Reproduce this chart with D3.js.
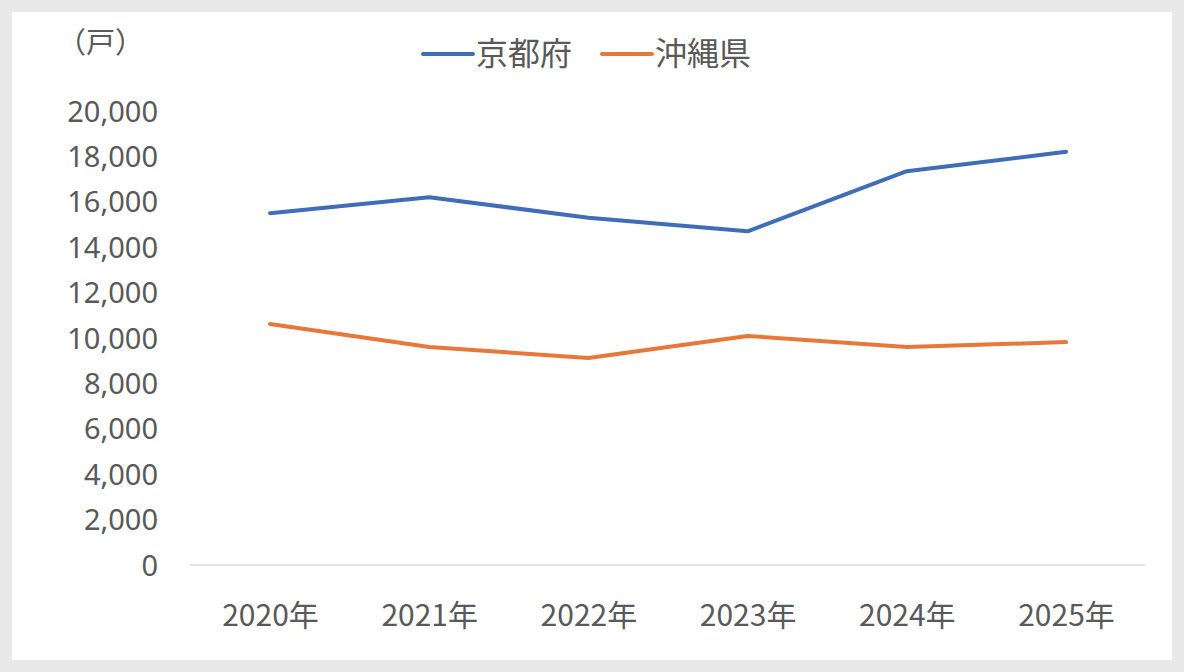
<!DOCTYPE html>
<html><head><meta charset="utf-8">
<script src="https://cdn.jsdelivr.net/npm/d3@7"></script>
<style>
html,body{margin:0;padding:0;background:#e8e8e8;}
svg{display:block;}
text{font-family:"Noto Sans CJK JP","Noto Sans",sans-serif;fill:#595959;}
</style></head>
<body>
<svg id="chart" width="1184" height="672"></svg>
<script>
const categories = ["2020年","2021年","2022年","2023年","2024年","2025年"];
const seriesNames = ["京都府","沖縄県"];
const kyoto = [15500, 16200, 15300, 14700, 17350, 18200];
const okinawa = [10620, 9600, 9120, 10090, 9600, 9820];
const yTicks = [0,2000,4000,6000,8000,10000,12000,14000,16000,18000,20000];
const colors = ["#3F6DB8","#E8773A"];
const unitLabel = "（戸）";

const svg = d3.select("#chart");
svg.append("rect").attr("x",12).attr("y",12).attr("width",1160).attr("height",648).attr("fill","#ffffff");

const x = d3.scalePoint().domain(categories).range([270,1066]).padding(0);
const y = d3.scaleLinear().domain([0,20000]).range([565,111]);

// axis baseline
svg.append("line").attr("x1",190).attr("x2",1145).attr("y1",y(0)).attr("y2",y(0))
  .attr("stroke","#d9d9d9").attr("stroke-width",1.5);

// y axis labels
const yAxis = d3.axisLeft(y).tickValues(yTicks).tickFormat(d3.format(",")).tickSize(0).tickPadding(0);
const gy = svg.append("g").attr("transform","translate(158,0)").call(yAxis);
gy.select(".domain").remove();
gy.selectAll("text").style("font-family","'Noto Sans',sans-serif").style("font-size","29px").attr("fill","#595959").attr("dy","0.35em");

// x axis labels
const xAxis = d3.axisBottom(x).tickSize(0).tickPadding(0);
const gx = svg.append("g").attr("transform","translate(0,602)").call(xAxis);
gx.select(".domain").remove();
gx.selectAll("text").style("font-size","30px").attr("fill","#595959").attr("dy","0.35em");
gx.selectAll("text").attr("y",13);

// lines
const line = d3.line().x((d,i)=>x(categories[i])).y(d=>y(d));
[kyoto, okinawa].forEach((s,k)=>{
  svg.append("path").datum(s).attr("d",line).attr("fill","none")
    .attr("stroke",colors[k]).attr("stroke-width",4).attr("stroke-linejoin","round").attr("stroke-linecap","round");
});

// unit label
svg.append("text").attr("x",57).attr("y",43).attr("dy","0.35em").style("font-size","29px").text(unitLabel);

// legend
const legendX = [423, 602];
seriesNames.forEach((n,k)=>{
  svg.append("line").attr("x1",legendX[k]).attr("x2",legendX[k]+50).attr("y1",54).attr("y2",54)
    .attr("stroke",colors[k]).attr("stroke-width",4).attr("stroke-linecap","round");
  svg.append("text").attr("x",legendX[k]+53).attr("y",54).attr("dy","0.35em").style("font-size","32px").text(n);
});
</script>
</body></html>
